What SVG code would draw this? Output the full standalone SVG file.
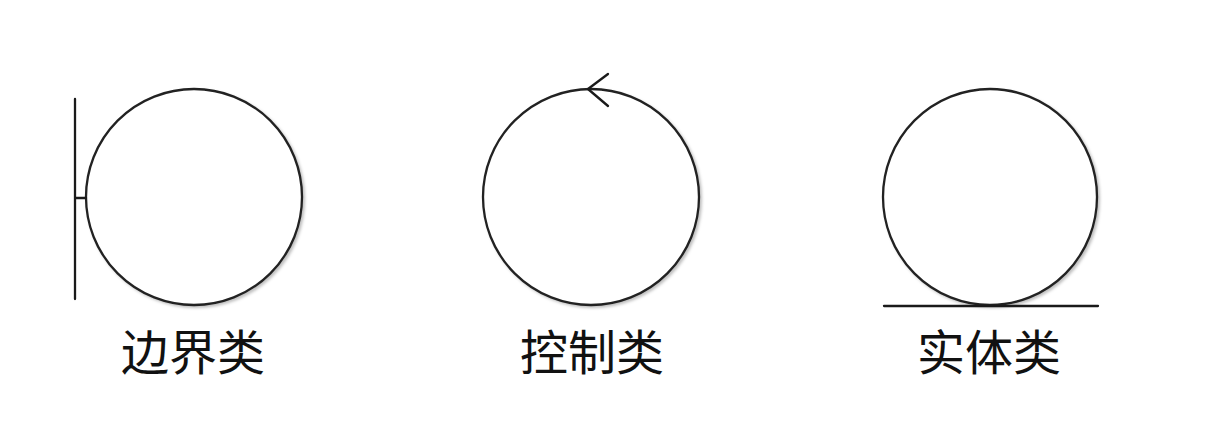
<svg xmlns="http://www.w3.org/2000/svg" width="1214" height="437" viewBox="0 0 1214 437">
<style>
.c{fill:#fff;stroke:#222;stroke-width:2.3}
.s{fill:#000;fill-opacity:.22;stroke:#000;stroke-opacity:.16;stroke-width:2.5;filter:url(#b)}
.l{fill:none;stroke:#1a1a1a;stroke-width:2.3;stroke-linecap:round;stroke-linejoin:round}
.t{font-family:"Noto Sans CJK SC","Noto Sans CJK JP",sans-serif;font-size:48px;fill:#111;text-anchor:middle}
</style>
<defs><filter id="b" x="-10%" y="-10%" width="120%" height="120%"><feGaussianBlur stdDeviation="1.5"/></filter></defs>
<rect width="1214" height="437" fill="#fff"/>
<g id="boundary">
<circle class="s" cx="196" cy="199" r="108"/>
<circle class="c" cx="194" cy="197" r="108"/>
<path class="l" d="M75 99V299M75 198H86"/>
<text class="t" x="193" y="370">边界类</text>
</g>
<g id="control">
<circle class="s" cx="593" cy="199" r="108"/>
<circle class="c" cx="591" cy="197" r="108"/>
<path class="l" d="M608 74L588 89L608 106"/>
<text class="t" x="592" y="370">控制类</text>
</g>
<g id="entity">
<ellipse class="s" cx="992" cy="199" rx="107" ry="108"/>
<ellipse class="c" cx="990" cy="197" rx="107" ry="108"/>
<path class="l" d="M884 306H1098"/>
<text class="t" x="989" y="370">实体类</text>
</g>
</svg>
